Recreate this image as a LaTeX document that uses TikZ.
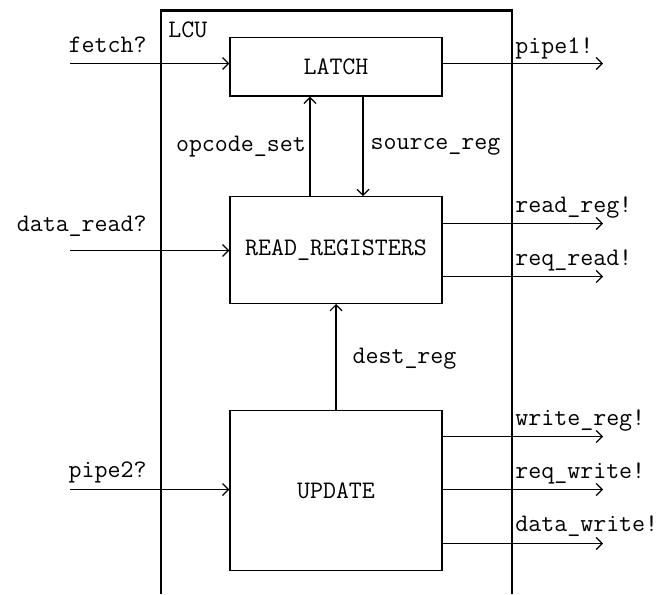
\documentclass[tikz,border=0pt]{standalone}
\usepackage{fontspec}
\usetikzlibrary{arrows.meta, positioning}
\tikzset{
  base/.style  = {font=\fontsize{12.6}{15}\selectfont\ttfamily},
  blk/.style   = {base, draw, line width=0.65pt, minimum width=106pt, inner sep=0pt},
  lbl/.style   = {base, inner sep=0pt},
  frame/.style = {line width=1.1pt},
  sig/.style   = {-{Straight Barb[length=3pt,width=6pt]}, line width=0.6pt},
}

\begin{document}
\begin{tikzpicture}[x=0.5pt, y=-0.5pt]
\useasboundingbox (0,0) rectangle (663,594);

%% ── blocks ──────────────────────────────────────────────────────────────────
\node[blk, minimum height=29.35pt] (latch) at (336,66.7) {LATCH};
\node[blk, minimum height=53.3pt, below=49.7pt of latch] (rreg) {READ\_REGISTERS};
\node[blk, minimum height=80pt,   below=53pt of rreg]    (upd)  {UPDATE};

%% ── LCU frame (open at the bottom) ──────────────────────────────────────────
\coordinate (lcuBL) at (161,594);
\coordinate (lcuTR) at (512,10.5);
\draw[frame] (lcuBL) |- (lcuTR) -- (lcuTR |- lcuBL);
\node[lbl, anchor=base west] (lcu) at (168,37.5) {LCU};

%% ── inputs ──────────────────────────────────────────────────────────────────
\coordinate (fetchin) at (70,63.5);
\coordinate (dreadin) at (70,250.5);
\coordinate (pipe2in) at (70,489.5);
\draw[sig] (fetchin) -- (fetchin -| latch.west);
\draw[sig] (dreadin) -- (dreadin -| rreg.west);
\draw[sig] (pipe2in) -- (pipe2in -| upd.west);
\node[lbl, anchor=base east] (fetchlbl) at (147,52.5) {fetch?};
\node[lbl, anchor=base east] (dreadlbl) at (147,231)  {data\_read?};
\node[lbl, anchor=base east] (pipe2lbl) at (147,477)  {pipe2?};

%% ── outputs ─────────────────────────────────────────────────────────────────
\coordinate (pipe1out)  at (603,63.5);
\coordinate (rregout)   at (603,223.5);
\coordinate (rreqout)   at (603,276.5);
\coordinate (wregout)   at (603,436.5);
\coordinate (wreqout)   at (603,489.5);
\coordinate (wdataout)  at (603,543.5);
\draw[sig] (pipe1out -| latch.east) -- (pipe1out);
\draw[sig] (rregout -| rreg.east)   -- (rregout);
\draw[sig] (rreqout -| rreg.east)   -- (rreqout);
\draw[sig] (wregout -| upd.east)    -- (wregout);
\draw[sig] (wreqout -| upd.east)    -- (wreqout);
\draw[sig] (wdataout -| upd.east)   -- (wdataout);
\node[lbl, anchor=base west] (pipe1lbl) at (515,53)    {pipe1!};
\node[lbl, anchor=base west] (rreglbl)  at (515,212.3) {read\_reg!};
\node[lbl, anchor=base west] (rreqlbl)  at (515,265)   {req\_read!};
\node[lbl, anchor=base west] (wreglbl)  at (515,425)   {write\_reg!};
\node[lbl, anchor=base west] (wreqlbl)  at (515,478.3) {req\_write!};
\node[lbl, anchor=base west] (wdatalbl) at (515,531.7) {data\_write!};

%% ── internal channels ───────────────────────────────────────────────────────
\draw[sig] ([xshift=-13pt]rreg.north) -- ([xshift=-13pt]latch.south)
  node[lbl, midway, left=1.8pt] {opcode\_set};
\draw[sig] ([xshift=13.5pt]latch.south) -- ([xshift=13.5pt]rreg.north)
  node[lbl, midway, right=3.5pt] {source\_reg};
\draw[sig] (upd.north) -- (rreg.south)
  node[lbl, pos=.48, right=8pt] {dest\_reg};

\end{tikzpicture}
\end{document}
